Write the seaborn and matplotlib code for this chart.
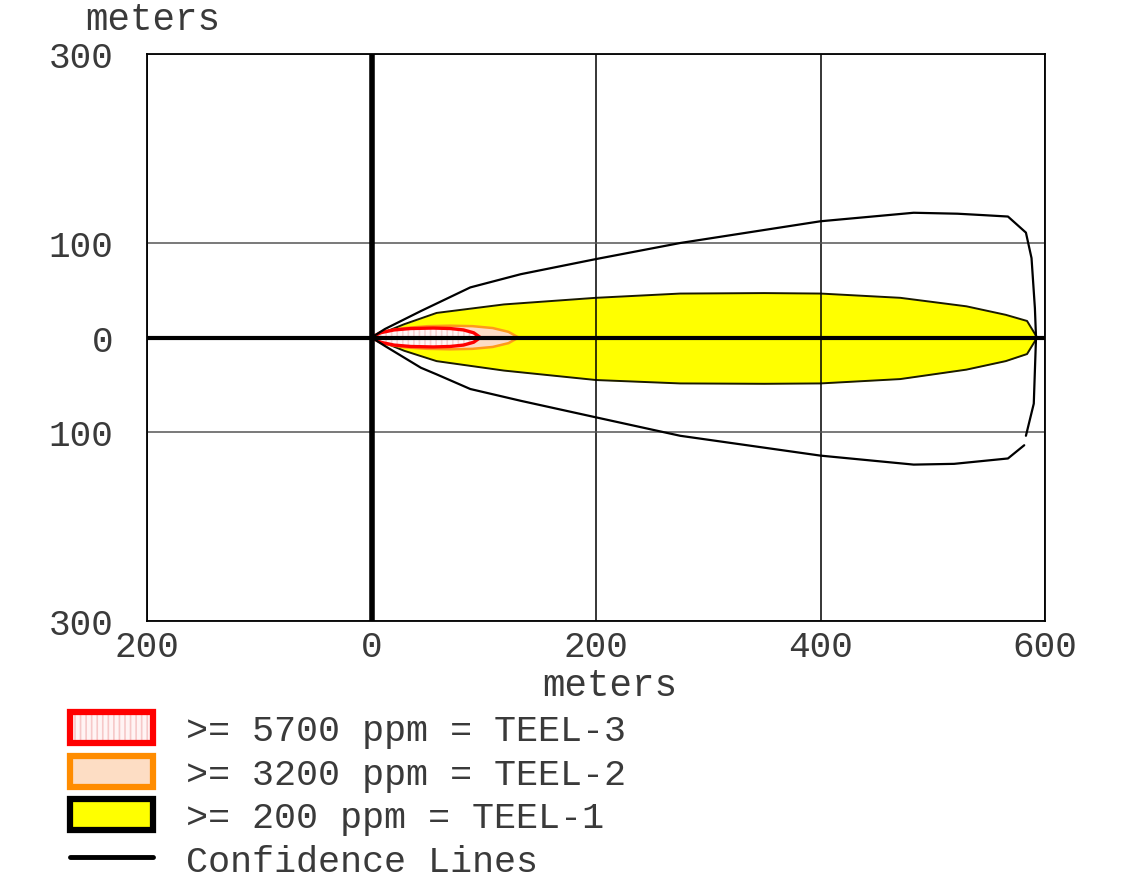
import numpy as np
import pandas as pd
import seaborn as sns
import matplotlib
matplotlib.use("Agg")
import matplotlib.pyplot as plt
from matplotlib.patches import Patch
from matplotlib.lines import Line2D
from matplotlib.legend_handler import HandlerTuple

# ---------------- data (meters) ----------------
x_ticks = [-200, 0, 200, 400, 600]
x_tick_labels = ["200", "0", "200", "400", "600"]
y_ticks = [300, 100, 0, -100, -300]
y_tick_labels = ["300", "100", "0", "100", "300"]

# TEEL-1 (>= 200 ppm) zone
teel1_x = [0, 29, 58, 118, 200, 275, 350, 400, 471, 530, 565, 584, 593]
teel1_top = [0, 14, 26, 35, 42, 46.5, 47, 46.5, 42, 33, 24, 17.5, 0]
teel1_bot = [0, -14, -25, -35, -45, -48.6, -49, -48.6, -44, -34, -25, -17.5, 0]

# TEEL-2 (>= 3200 ppm) zone
teel2_x = [0, 12, 30, 50, 70, 90, 108, 122, 131]
teel2_top = [0, 6.5, 10, 12, 12.5, 12, 10, 6, 0]
teel2_bot = [0, -7, -10.5, -12, -12.5, -12, -10, -6, 0]

# TEEL-3 (>= 5700 ppm) zone
teel3_x = [0, 8, 20, 35, 55, 70, 82, 91, 97]
teel3_top = [0, 5, 8, 9.5, 10, 9.5, 8, 5, 0]
teel3_bot = [0, -5, -8, -9.5, -10, -9.5, -8, -5, 0]

# confidence lines
conf_upper_x = [0, 12, 44, 88, 133, 200, 275, 400, 483, 522, 545, 567, 583, 588, 591, 592, 590, 583]
conf_upper_y = [0, 9, 28, 53, 67, 83, 100, 123, 132, 131, 129.5, 128, 111, 84, 31, 0, -70, -104]
conf_lower_x = [581.5, 567, 519, 483, 400, 275, 200, 133, 88, 58, 44, 12, 0]
conf_lower_y = [-114, -128, -133.7, -134.5, -125, -104, -84.5, -67, -54.5, -39, -32, -9, 0]

legend_labels = [">= 5700 ppm = TEEL-3", ">= 3200 ppm = TEEL-2",
                 ">= 200 ppm = TEEL-1", "Confidence Lines"]

# ---------------- style ----------------
sns.set_theme(style="white")
plt.rcParams['font.family'] = ['Liberation Mono', 'DejaVu Sans Mono']
plt.rcParams['hatch.linewidth'] = 1.2
TXT = "#3a3a3a"

W, H = 1133, 878
fig = plt.figure(figsize=(W / 100, H / 100), dpi=100, facecolor="white")
ax = fig.add_axes([147 / W, 1 - 622 / H, 898 / W, 567 / H])
ax.set_facecolor("white")


def outline(xs, top, bot):
    xx = list(xs) + list(xs[::-1])
    yy = list(top) + list(bot[::-1])
    return pd.DataFrame({"x": xx, "y": yy})


# TEEL-1
ax.fill_between(teel1_x, teel1_bot, teel1_top, color="#FFFF00", lw=0, zorder=1)
d = outline(teel1_x, teel1_top, teel1_bot)
sns.lineplot(data=d, x="x", y="y", sort=False, estimator=None, color="#1a1a00",
             lw=1.4, ax=ax, zorder=1.5, legend=False)

# TEEL-2
ax.fill_between(teel2_x, teel2_bot, teel2_top, color="#FCDCC6", lw=0, zorder=1.6)
d = outline(teel2_x, teel2_top, teel2_bot)
sns.lineplot(data=d, x="x", y="y", sort=False, estimator=None, color="#FF9A1A",
             lw=1.8, ax=ax, zorder=1.7, legend=False)

# TEEL-3
ax.fill_between(teel3_x, teel3_bot, teel3_top, facecolor="#FFF6F6",
                edgecolor="#F6D2D2", hatch="|||", lw=0, zorder=1.8)
d = outline(teel3_x, teel3_top, teel3_bot)
sns.lineplot(data=d, x="x", y="y", sort=False, estimator=None, color="#FF0000",
             lw=2.4, ax=ax, zorder=1.9, legend=False)

# confidence lines
sns.lineplot(x=conf_upper_x, y=conf_upper_y, sort=False, estimator=None,
             color="black", lw=1.6, ax=ax, zorder=3, legend=False)
sns.lineplot(x=conf_lower_x, y=conf_lower_y, sort=False, estimator=None,
             color="black", lw=1.6, ax=ax, zorder=3, legend=False)

# axes lines through origin
ax.axhline(0, color="black", lw=3.0, zorder=4)
ax.axvline(0, color="black", lw=4.0, zorder=4)

ax.set_xlim(-200, 600)
ax.set_ylim(-300, 300)
ax.set_xticks(x_ticks)
ax.set_xticklabels(x_tick_labels)
ax.set_yticks(y_ticks)
ax.set_yticklabels(y_tick_labels)
ax.tick_params(axis="both", length=0, labelsize=26, colors=TXT)
ax.tick_params(axis="x", pad=6)
ax.tick_params(axis="y", pad=24)

ax.set_axisbelow(False)
ax.xaxis.grid(True, color="black", lw=1.1)
ax.yaxis.grid(True, color="#555555", lw=1.1)
for s in ax.spines.values():
    s.set_visible(True)
    s.set_color("black")
    s.set_linewidth(1.3)
    s.set_zorder(5)

ax.set_xlabel("meters", fontsize=27, color=TXT)
ax.xaxis.set_label_coords((610 - 147) / 898, (622 - 686) / 567)
ax.xaxis.label.set_va("center")
ax.set_ylabel("meters", fontsize=27, color=TXT, rotation=0)
ax.yaxis.set_label_coords((85 - 147) / 898, (622 - 20) / 567)
ax.yaxis.label.set_ha("left")
ax.yaxis.label.set_va("center")

# legend
h_red = (Patch(facecolor="#FFF4F4", edgecolor="#F6C8C8", hatch="|||", lw=0),
         Patch(facecolor="none", edgecolor="#FF0000", lw=4.5))
h_orange = Patch(facecolor="#FDDDC4", edgecolor="#FF8C00", lw=4.5, joinstyle="round")
h_yellow = Patch(facecolor="#FFFF00", edgecolor="black", lw=4.5)
h_line = Line2D([], [], color="black", lw=3.5)
leg = fig.legend([h_red, h_orange, h_yellow, h_line], legend_labels,
                 handler_map={tuple: HandlerTuple(ndivide=1)},
                 loc="upper left", bbox_to_anchor=(70 / W, 1 - 713 / H),
                 frameon=False, fontsize=26.5, handlelength=2.25, handleheight=0.92,
                 handletextpad=0.9, labelspacing=0.2, borderpad=0, borderaxespad=0)
for t in leg.get_texts():
    t.set_color(TXT)

fig.savefig("out.png", dpi=100, facecolor="white")
